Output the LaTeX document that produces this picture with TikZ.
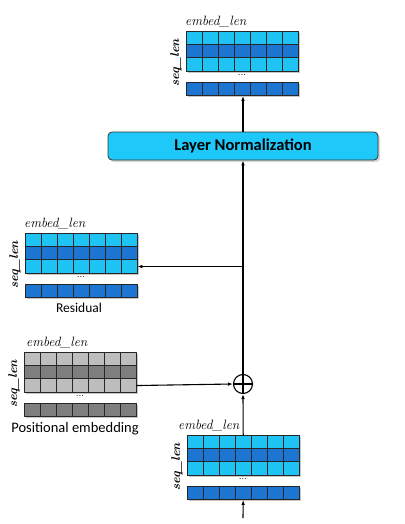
\documentclass[tikz,border=0pt]{standalone}
\usepackage{fontspec}
\setsansfont{Carlito}
\usetikzlibrary{arrows.meta,shadows}

\definecolor{cellcyan}{HTML}{1FC3F4}
\definecolor{cellblue}{HTML}{1C75D0}
\definecolor{cellgray}{HTML}{BDBDBD}
\definecolor{celldgray}{HTML}{7E7E7E}
\definecolor{normcyan}{HTML}{1EC8F8}

% one token matrix: #1 name, #2/#3 top left corner, #4 light, #5 dark, #6 label shift
\newcommand{\tokgrid}[6]{%
  \begin{scope}[shift={(#2,#3)}]
    \fill[black!22] (1.8,1.8) rectangle ++(112,40);
    \fill[black!22] (1.8,52.8) rectangle ++(112,13.5);
    \foreach \r/\col in {0/#4,1/#5,2/#4}
      \foreach \i in {0,...,6}
        \draw[cell,fill=\col] (\i*16,\r*13.33) rectangle ++(16,13.33);
    \foreach \i in {0,...,6}
      \draw[cell,fill=#5] (\i*16,51) rectangle ++(16,13.5);
    \node[inner sep=0pt,minimum width=112pt,minimum height=40pt,anchor=north west] (#1) at (0,0) {};
    \node[inner sep=0pt,minimum width=112pt,minimum height=13.33pt,anchor=north west] (#1-r) at (0,26.67) {};
    \node[inner sep=0pt,minimum width=112pt,minimum height=13.5pt,anchor=north west] (#1-last) at (0,51) {};
    \node[dimlabel,anchor=south west] (#1-embed) at (#6,-3) {embed\_len};
    \node[dimlabel,font=\fontsize{12.5}{14}\selectfont\bfseries\itshape,rotate=90] (#1-seq) at (-10,32) {seq\_len};
    \node[font=\fontsize{10}{10}\selectfont] (#1-dots) at (56,44) {...};
  \end{scope}}

\begin{document}
\begin{tikzpicture}[x=1pt,y=-1pt,
  cell/.style={draw=black!85,line width=0.8pt},
  dimlabel/.style={inner sep=0pt,font=\fontsize{13.5}{15}\selectfont\itshape},
  conn/.style={line width=1.1pt,-{Latex[length=5pt,width=3.6pt]}},
  caption/.style={font=\sffamily\fontsize{13.5}{15}\selectfont}]
\useasboundingbox (0,0) rectangle (404,524);

\tokgrid{top}{186}{31}{cellcyan}{cellblue}{-1}
\tokgrid{res}{25}{233}{cellcyan}{cellblue}{-1}
\tokgrid{pos}{24}{352}{cellgray}{celldgray}{2}
\tokgrid{bot}{187}{435}{cellcyan}{cellblue}{-9}

\node[caption] (res-cap) at (79,308) {Residual};
\node[caption,font=\sffamily\fontsize{14.5}{16}\selectfont] (pos-cap) at (75,429) {Positional embedding};

\node[draw=black!80,line width=0.8pt,fill=normcyan,rounded corners=4pt,
  minimum width=270pt,minimum height=28pt,drop shadow={opacity=0.3},
  font=\sffamily\bfseries\fontsize{16.5}{18}\selectfont] (ln) at (243,146) {Layer Normalization};

\node[draw,circle,line width=1.1pt,minimum size=19pt,inner sep=0pt] (plus) at (243,384) {};
\draw[line width=1.1pt] (plus.north) -- (plus.south) (plus.west) -- (plus.east);

\coordinate (in) at (243,518);
\coordinate (br) at (plus |- res-r);

\draw[conn] (in) -- (bot-last.south);
\draw[conn] (bot.north) -- (plus.south);
\draw[conn] (pos-r.east) -- (plus.west);
\draw[conn] (plus.north) -- (ln.south);
\draw[conn] (br) -- (res-r.east);
\draw[conn] (ln.north) -- (ln.north |- top-last.south);

\end{tikzpicture}
\end{document}
